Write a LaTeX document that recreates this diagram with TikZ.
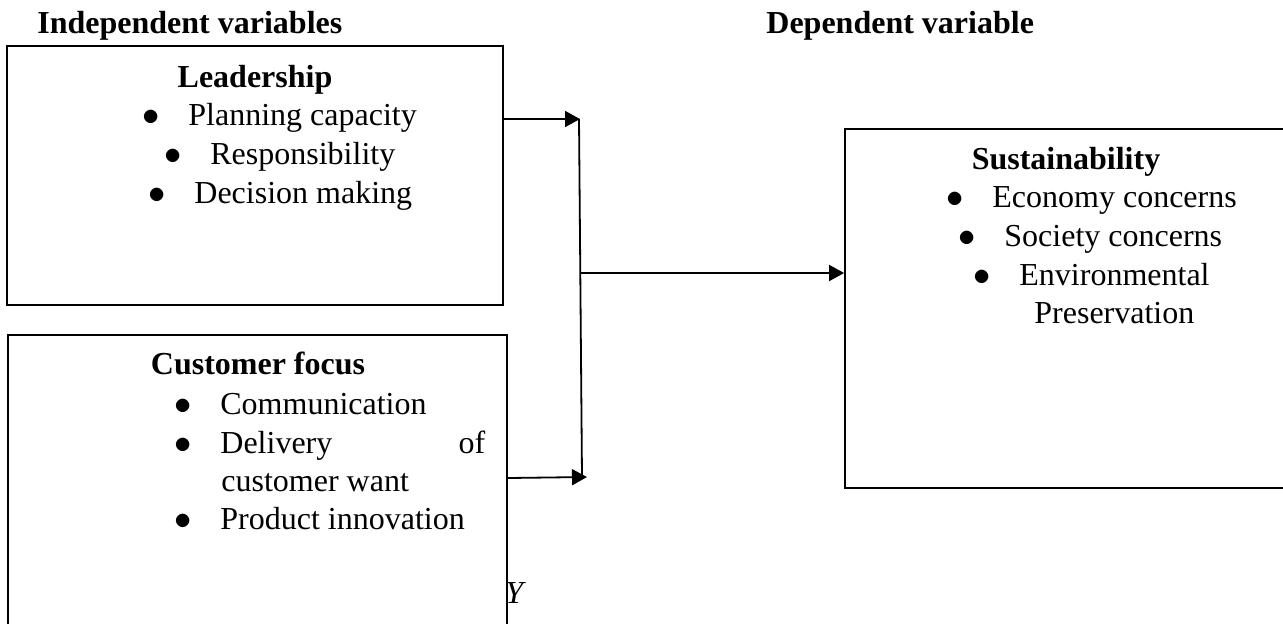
\documentclass[tikz,border=0pt]{standalone}
\usepackage{fontspec}
\setmainfont{Liberation Serif}
\usetikzlibrary{arrows.meta}
\tikzset{
  varbox/.style={draw=black, line width=0.9pt, inner sep=0pt},
  heading/.style={font=\fontsize{16}{19}\selectfont\bfseries, anchor=base west, inner sep=0pt},
  boxtitle/.style={font=\fontsize{16}{19}\selectfont\bfseries, anchor=base, inner sep=0pt},
  item/.style={font=\fontsize{16}{19}\selectfont, anchor=base west, inner sep=0pt},
  link/.style={line width=0.9pt},
  link-arrow/.style={link, -{Triangle[length=7.5pt,width=8pt]}}
}
\newcommand{\bul}{\makebox[23pt][l]{$\bullet$}}

\begin{document}
\begin{tikzpicture}[x=0.5pt, y=-0.5pt]
  \useasboundingbox (0,0) rectangle (1283,623);

  % Headings
  \node[heading] (indep) at (37,33) {Independent variables};
  \node[heading] (dep) at (766,33) {Dependent variable};

  % Boxes
  \node[varbox, minimum width=248pt, minimum height=129.5pt] (lead) at (255,175.5) {};
  \node[varbox, minimum width=249.5pt, minimum height=152.5pt] (cust) at (257.5,487.5) {};
  \node[varbox, minimum width=227pt, minimum height=179.5pt] (sust) at (1072,308.5) {};

  % Leadership
  \node[boxtitle] (leadtitle) at (255,87) {Leadership};
  \node[item] (plan) at (142,125) {\bul Planning capacity};
  \node[item] (resp) at (164,164) {\bul Responsibility};
  \node[item] (deci) at (148,203) {\bul Decision making};

  % Customer focus
  \node[boxtitle] (custtitle) at (258,374) {Customer focus};
  \node[item] (comm) at (174,414) {\bul Communication};
  \node[item] (deli) at (174,453) {\bul\makebox[132.5pt][l]{Delivery\hfill of}};
  \node[item] (deli2) at (221,491) {customer want};
  \node[item] (prod) at (174,529) {\bul Product innovation};
  \node[item] (ylab) at (505,603) {\itshape Y};

  % Sustainability
  \node[boxtitle] (susttitle) at (1066,169) {Sustainability};
  \node[item] (econ) at (946,207) {\bul Economy concerns};
  \node[item] (soc) at (958,246) {\bul Society concerns};
  \node[item] (env) at (973,285) {\bul Environmental};
  \node[item] (pres) at (1034,323) {Preservation};

  % Connectors
  \coordinate (jtop) at (580,119);
  \coordinate (jbot) at (587,477);
  \coordinate (jmid) at (580,273);
  \draw[link-arrow] (lead.east |- jtop) -- (jtop);
  \draw[link-arrow] (cust.east |- 0,478) -- (jbot);
  \draw[link] (579,119) -- (582,477);
  \draw[link-arrow] (jmid) -- (sust.west |- jmid);
\end{tikzpicture}
\end{document}
